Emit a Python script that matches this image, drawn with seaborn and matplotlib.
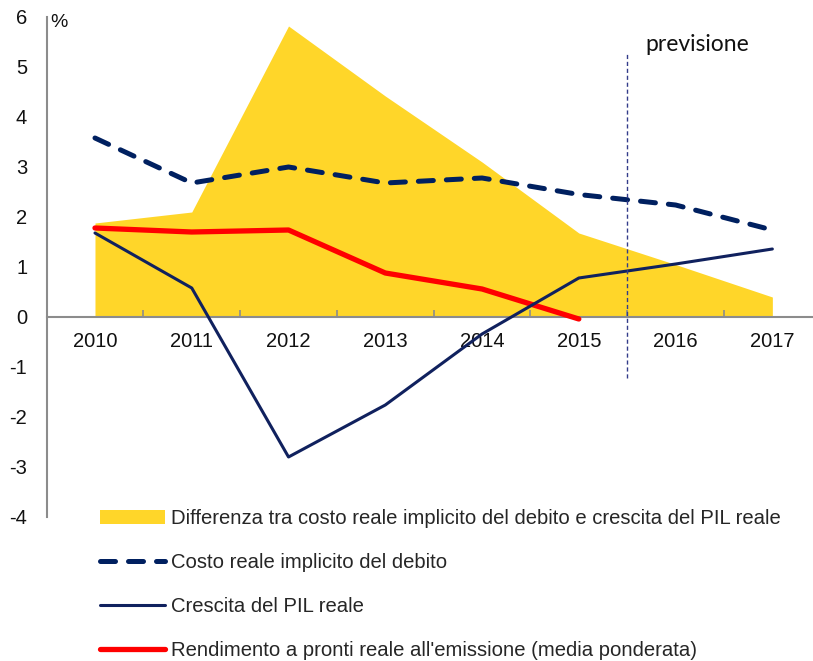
import matplotlib.pyplot as plt
import numpy as np
import pandas as pd
import seaborn as sns
from matplotlib.patches import Patch
from matplotlib.ticker import FixedLocator

# dati (valori in %)
anni = [2010, 2011, 2012, 2013, 2014, 2015, 2016, 2017]
differenza = [1.88, 2.10, 5.82, 4.42, 3.10, 1.68, 1.05, 0.40]
costo = [3.58, 2.68, 3.00, 2.68, 2.78, 2.45, 2.24, 1.74]
crescita = [1.68, 0.58, -2.80, -1.76, -0.34, 0.78, 1.06, 1.36]
anni_rend = [2010, 2011, 2012, 2013, 2014, 2015]
rendimento = [1.78, 1.70, 1.74, 0.88, 0.56, -0.04]

etichette = ["Differenza tra costo reale implicito del debito e crescita del PIL reale",
             "Costo reale implicito del debito",
             "Crescita del PIL reale",
             "Rendimento a pronti reale all'emissione (media ponderata)"]
y_ticks = [-4, -3, -2, -1, 0, 1, 2, 3, 4, 5, 6]
inizio_previsione = 2015.5

df = pd.DataFrame({"anno": anni, "differenza": differenza, "costo": costo, "crescita": crescita})
df_rend = pd.DataFrame({"anno": anni_rend, "rendimento": rendimento})

sns.set_theme(style="white")
plt.rcParams["font.family"] = ["Liberation Sans", "DejaVu Sans"]
plt.rcParams["axes.unicode_minus"] = False

GIALLO = "#FFD629"
BLU = "#002060"
BLU2 = "#10215E"
ROSSO = "#FF0000"
GRIGIO = "#8C8C8C"

fig = plt.figure(figsize=(8.13, 6.61), dpi=100)
ax = fig.add_axes([46.6 / 813, 1 - 517 / 661, 1 - 46.6 / 813, 500 / 661])
ax.set_axisbelow(False)

ax.fill_between(df["anno"], 0, df["differenza"], color=GIALLO, linewidth=0, zorder=1)
sns.lineplot(data=df, x="anno", y="costo", ax=ax, color=BLU, linewidth=3.6,
             linestyle=(0, (3.0, 2.6)), dash_capstyle="round", zorder=3)
sns.lineplot(data=df_rend, x="anno", y="rendimento", ax=ax, color=ROSSO, linewidth=3.8, zorder=4)
sns.lineplot(data=df, x="anno", y="crescita", ax=ax, color=BLU2, linewidth=2.2, zorder=5)

ax.vlines(inizio_previsione, -1.22, 5.28, color="#333C8A", linewidth=1.0,
          linestyles=(0, (3, 2)), zorder=6)
ax.text(inizio_previsione + 0.19, 5.45, "previsione", fontsize=16.5, family=["Lato", "DejaVu Sans"],
        color="#111111", va="center", ha="left")
ax.text(2009.54, 6.06, "%", fontsize=14, va="top", ha="left", color="#111111")

ax.set_xlim(2009.5, 2017.42)
ax.set_ylim(-4, 6)
ax.set_xlabel("")
ax.set_ylabel("")

ax.set_xticks(anni)
ax.set_xticklabels([str(a) for a in anni])
ax.xaxis.set_minor_locator(FixedLocator([a + 0.5 for a in anni]))
ax.tick_params(axis="x", which="major", length=0, labelsize=14.5, pad=11, colors="#111111")
ax.tick_params(axis="x", which="minor", direction="in", length=5, width=1.2, color=GRIGIO, bottom=True)
ax.set_yticks(y_ticks)
ax.tick_params(axis="y", length=0, labelsize=14.5, pad=14, colors="#111111")

ax.spines["bottom"].set_position(("data", 0))
for s in ["bottom", "left"]:
    ax.spines[s].set_color(GRIGIO)
    ax.spines[s].set_linewidth(1.5)
ax.spines["top"].set_visible(False)
ax.spines["right"].set_visible(False)
ax.grid(False)

righe = ax.get_lines()
handles = [Patch(facecolor=GIALLO, edgecolor="none"), righe[0], righe[2], righe[1]]
fig.legend(handles, etichette, loc="upper left", bbox_to_anchor=(100 / 813, 1 - 509 / 661),
           frameon=False, fontsize=14.6, borderpad=0, borderaxespad=0, handlelength=3.2,
           handletextpad=0.3, labelspacing=1.24)

fig.savefig("out.png", dpi=100)
